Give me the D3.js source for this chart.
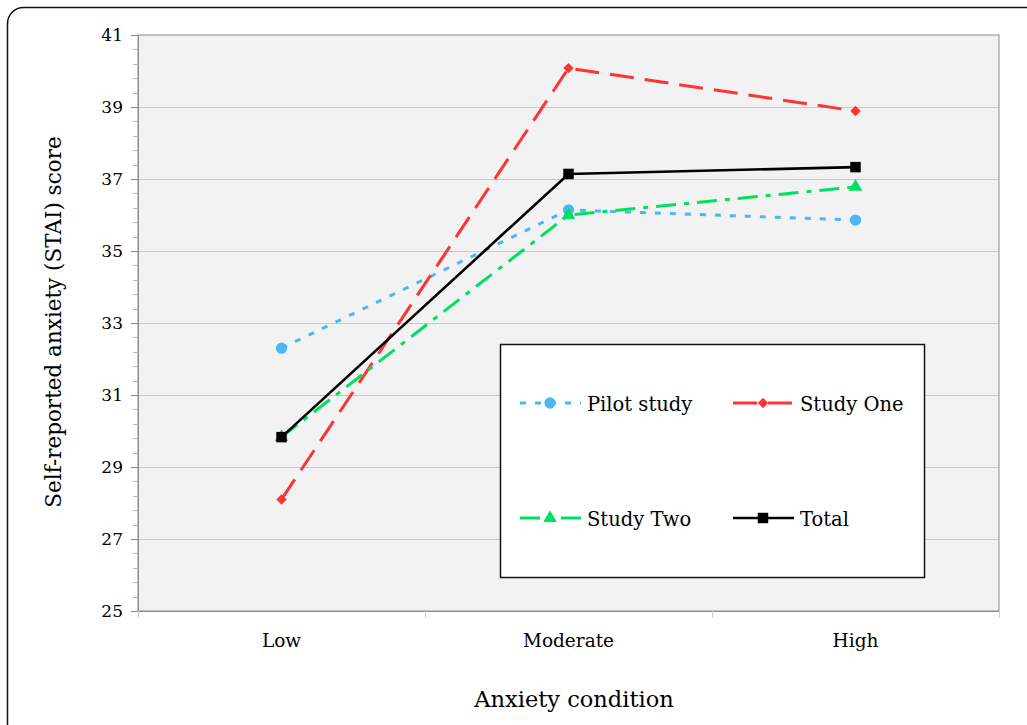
<!DOCTYPE html>
<html>
<head>
<meta charset="utf-8">
<script src="https://cdn.jsdelivr.net/npm/d3@7"></script>
<style>
  body { margin: 0; background: #fff; }
  text { fill: #000; }
</style>
</head>
<body>
<svg class="chart" width="1027" height="725"></svg>
<script>
// data
var categories = ["Low", "Moderate", "High"];
var seriesNames = ["Pilot study", "Study One", "Study Two", "Total"];
var pilotStudy = [32.3, 36.14, 35.86];
var studyOne = [28.1, 40.08, 38.89];
var studyTwo = [29.83, 36.0, 36.78];
var total = [29.83, 37.14, 37.33];
var yTicks = [25, 27, 29, 31, 33, 35, 37, 39, 41];

var serif = "'DejaVu Serif', serif";

var svg = d3.select(".chart"),
  marginLeft = 138,
  marginTop = 35,
  width = 861,
  height = 576;

// outer frame, runs off the right and bottom edges
svg.append("rect")
  .attr("x", 7.5).attr("y", 7.5)
  .attr("width", 1060).attr("height", 760)
  .attr("rx", 16)
  .attr("fill", "none")
  .attr("stroke", "#111")
  .attr("stroke-width", 1.5);

var xScale = d3.scaleBand().domain(categories).range([0, width]);
var yScale = d3.scaleLinear().domain([25, 41]).range([height, 0]);

var g = svg.append("g").attr("transform", "translate(" + marginLeft + "," + marginTop + ")");

g.append("rect")
  .attr("width", width).attr("height", height)
  .attr("fill", "#f2f2f2");

// gridlines
g.append("g")
  .selectAll("line")
  .data(yTicks.slice(1, -1))
  .join("line")
  .attr("x1", 0).attr("x2", width)
  .attr("y1", (d) => yScale(d) + 0.5).attr("y2", (d) => yScale(d) + 0.5)
  .attr("stroke", "#c8c8c8");

g.append("rect")
  .attr("width", width).attr("height", height)
  .attr("fill", "none")
  .attr("stroke", "#8c8c8c")
  .attr("stroke-width", 1);

// minor y ticks
var minor = d3.range(25, 41.01, 0.4);
g.append("g")
  .selectAll("line")
  .data(minor)
  .join("line")
  .attr("x1", -5).attr("x2", 0)
  .attr("y1", (d) => Math.round(yScale(d)) + 0.5).attr("y2", (d) => Math.round(yScale(d)) + 0.5)
  .attr("stroke", "#bbb");

var yAxis = g.append("g")
  .call(d3.axisLeft(yScale).tickValues(yTicks).tickSize(7).tickPadding(8));
yAxis.select(".domain").attr("stroke", "#8c8c8c");
yAxis.selectAll(".tick line").attr("stroke", "#8c8c8c");
yAxis.selectAll("text").style("font-family", serif).style("font-size", "17px").attr("fill", "#000");

var xAxis = g.append("g")
  .attr("transform", "translate(0," + height + ")")
  .call(d3.axisBottom(xScale).tickSize(0).tickPadding(23));
xAxis.select(".domain").attr("stroke", "#8c8c8c");
xAxis.selectAll("text").style("font-family", serif).style("font-size", "18.5px").attr("fill", "#000");

// category separators below the axis
g.append("g")
  .selectAll("line")
  .data([0].concat(categories.map((c) => xScale(c) + xScale.bandwidth())))
  .join("line")
  .attr("x1", (d) => d + 0.5).attr("x2", (d) => d + 0.5)
  .attr("y1", height).attr("y2", height + 7)
  .attr("stroke", "#ccc");

// titles
svg.append("text")
  .attr("transform", "translate(61," + 322 + ") rotate(-90)")
  .attr("text-anchor", "middle")
  .style("font-family", serif)
  .style("font-size", "21.5px")
  .text("Self-reported anxiety (STAI) score");

svg.append("text")
  .attr("x", 574).attr("y", 707)
  .attr("text-anchor", "middle")
  .style("font-family", serif)
  .style("font-size", "22.5px")
  .text("Anxiety condition");

var series = [
  { name: seriesNames[0], values: pilotStudy, color: "#4db6f7", dash: "6,9", width: 3, symbol: d3.symbolCircle, size: 100, rot: 0 },
  { name: seriesNames[1], values: studyOne, color: "#ff3333", dash: "24,11", width: 3, symbol: d3.symbolSquare, size: 55, rot: 45 },
  { name: seriesNames[2], values: studyTwo, color: "#00e060", dash: "20,8,5,8", width: 3, symbol: d3.symbolTriangle, size: 80, rot: 0 },
  { name: seriesNames[3], values: total, color: "#000", dash: null, width: 2.6, symbol: d3.symbolSquare, size: 110, rot: 0 }
];

var line = d3.line()
  .x((d, i) => xScale(categories[i]) + xScale.bandwidth() / 2)
  .y((d) => yScale(d));

series.forEach((s) => {
  g.append("path")
    .attr("d", line(s.values))
    .attr("fill", "none")
    .attr("stroke", s.color)
    .attr("stroke-width", s.width)
    .attr("stroke-dasharray", s.dash);
  g.append("g")
    .selectAll("path")
    .data(s.values)
    .join("path")
    .attr("transform", (d, i) => "translate(" + (xScale(categories[i]) + xScale.bandwidth() / 2) + "," + yScale(d) + ") rotate(" + s.rot + ")")
    .attr("d", d3.symbol().type(s.symbol).size(s.size))
    .attr("fill", s.color);
});

// legend
var legend = svg.append("g").attr("transform", "translate(500,344)");
legend.append("rect")
  .attr("x", 0.5).attr("y", 0.5)
  .attr("width", 424).attr("height", 233)
  .attr("fill", "#fff")
  .attr("stroke", "#111")
  .attr("stroke-width", 1.5);

var slots = [[20, 59], [233, 59], [20, 174], [233, 174]];
series.forEach((s, i) => {
  var it = legend.append("g").attr("transform", "translate(" + slots[i][0] + "," + slots[i][1] + ")");
  it.append("line")
    .attr("x1", 0).attr("x2", 61)
    .attr("stroke", s.color)
    .attr("stroke-width", s.width)
    .attr("stroke-dasharray", s.dash);
  it.append("path")
    .attr("transform", "translate(30,0) rotate(" + s.rot + ")")
    .attr("d", d3.symbol().type(s.symbol).size(s.size))
    .attr("fill", s.color);
  it.append("text")
    .attr("x", 67).attr("y", 1)
    .attr("dy", "0.35em")
    .style("font-family", serif)
    .style("font-size", "19.5px")
    .text(s.name);
});
</script>
</body>
</html>
